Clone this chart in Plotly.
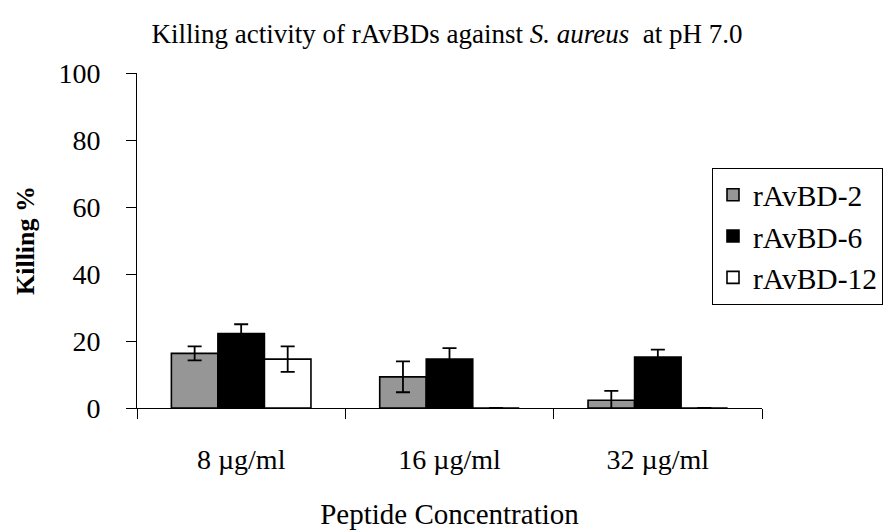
import plotly.graph_objects as go

categories = ["8 µg/ml", "16 µg/ml", "32 µg/ml"]
series_names = ["rAvBD-2", "rAvBD-6", "rAvBD-12"]
avbd2 = [16.3, 9.3, 2.3]
avbd2_err = [2.1, 4.6, 2.8]
avbd6 = [22.2, 14.6, 15.2]
avbd6_err = [2.8, 3.3, 2.2]
avbd12 = [14.6, 0, 0]
avbd12_err = [3.8, 0, 0]
y_ticks = [0, 20, 40, 60, 80, 100]

values = [avbd2, avbd6, avbd12]
errors = [avbd2_err, avbd6_err, avbd12_err]
colors = ["#969696", "#000000", "#ffffff"]

FONT = "Liberation Serif"

fig = go.Figure()
for name, vals, errs, col in zip(series_names, values, errors, colors):
    fig.add_trace(go.Bar(
        x=categories, y=vals, name=name, legendgroup=name,
        marker=dict(color=col, line=dict(color="#000000", width=1.6)),
        error_y=dict(type="data", array=errs, visible=True, color="#000000",
                     thickness=1.8, width=7),
    ))

fig.update_layout(
    width=885, height=531,
    margin=dict(l=137, r=123, t=73, b=123, autoexpand=False),
    paper_bgcolor="white", plot_bgcolor="white",
    barmode="group", bargap=0.33, bargroupgap=0,
    font=dict(family=FONT, color="#000000"),
    title=dict(text="Killing activity of rAvBDs against <i>S. aureus</i>  at pH 7.0",
               x=0.505, xanchor="center", y=1 - 34 / 531, yanchor="middle",
               font=dict(size=27, family=FONT)),
    legend=dict(x=(712 - 137) / 625, xanchor="left", y=(408 - 168) / 335, yanchor="top",
                bordercolor="#000000", borderwidth=1, bgcolor="white",
                font=dict(size=29.5, family=FONT), tracegroupgap=0),
    xaxis=dict(type="category", range=[-0.5, 2.5], tickson="boundaries", automargin=False,
               ticks="outside", ticklen=10, tickcolor="#000000",
               showline=True, linecolor="#000000", linewidth=1, showgrid=False,
               tickfont=dict(size=28, family=FONT), ticklabelstandoff=26,
               title=dict(text="Peptide Concentration", font=dict(size=29, family=FONT), standoff=30)),
    yaxis=dict(range=[0, 100], tickvals=y_ticks, ticks="outside", ticklen=10, tickcolor="#000000",
               automargin=False,
               showline=True, linecolor="#000000", linewidth=1, showgrid=False, zeroline=False,
               tickfont=dict(size=28, family=FONT), ticklabelstandoff=20,
               title=dict(text="<b>Killing %</b>", font=dict(size=26, family=FONT), standoff=16)),
    xaxis2=dict(overlaying="x", anchor="y", range=[-0.5, 2.5], tick0=-0.5, dtick=1, automargin=False,
                ticks="inside", ticklen=10, tickcolor="#000000", showticklabels=False,
                showline=False, showgrid=False, zeroline=False, side="bottom"),
    yaxis2=dict(overlaying="y", anchor="x", range=[0, 100], tickvals=y_ticks, automargin=False,
                ticks="inside", ticklen=10, tickcolor="#000000", showticklabels=False,
                showline=False, showgrid=False, zeroline=False, side="left"),
)

fig.write_html("out.html")
